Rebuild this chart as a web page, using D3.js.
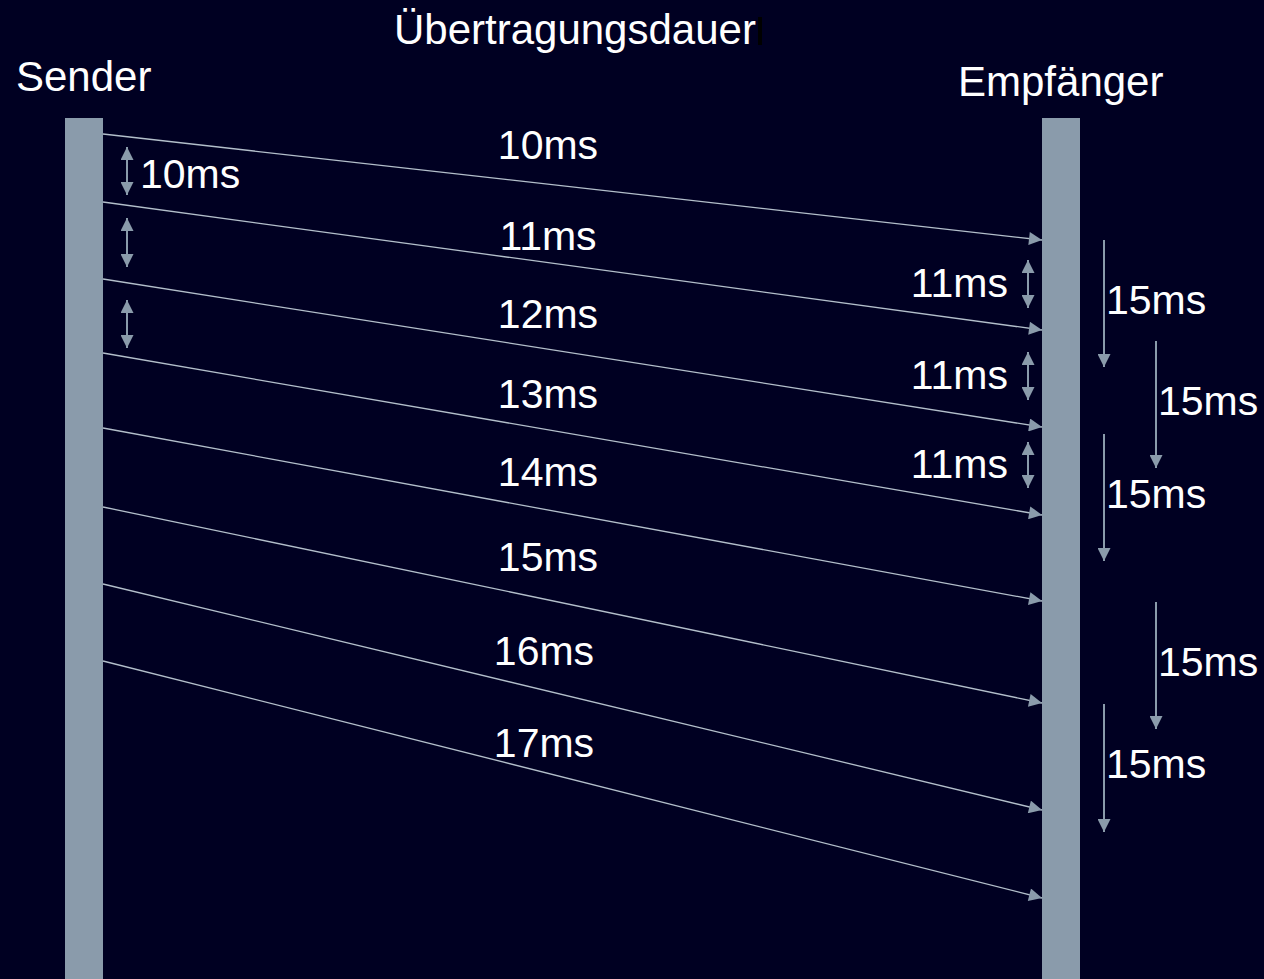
<!DOCTYPE html>
<html>
<head>
<meta charset="utf-8">
<script src="https://cdn.jsdelivr.net/npm/d3@7"></script>
<style>
  html, body { margin: 0; padding: 0; background: #000022; }
  svg { display: block; }
</style>
</head>
<body>
<svg id="chart"></svg>
<script>
// Parties (the two timelines)
let parties = ["Sender", "Empfänger"];

// Messages: when they leave the sender, when they arrive, how long they took
let sendAt = [134, 202, 279, 353, 428, 507, 584, 661];
let arriveAt = [240, 330, 427, 515, 601, 703, 810, 898];
let durations = ["10ms", "11ms", "12ms", "13ms", "14ms", "15ms", "16ms", "17ms"];
let durationLabelAt = [159, 250, 328, 408, 486, 571, 665, 757];

// Gaps between sends (left) and between arrivals (right)
let sendGaps = [[147, 195], [218, 267], [300, 348]];
let sendGapLabels = ["10ms", "", ""];
let arriveGaps = [[260, 308], [352, 400], [442, 488]];
let arriveGapLabels = ["11ms", "11ms", "11ms"];

// Playout interval arrows on the right, in two staggered columns
let playout = [[240, 367], [341, 468], [434, 561], [602, 729], [704, 832]];
let playoutColumn = [0, 1, 0, 1, 0];
let playoutLabels = ["15ms", "15ms", "15ms", "15ms", "15ms"];

let title = "Übertragungsdauer";

let width = 1264;
let height = 979;
let bg = "#000022";
let barColor = "#8a9bab";
let lineColor = "#b3bfcb";
let font = "'Liberation Sans', Arial, sans-serif";

let svg = d3.select("#chart")
  .attr("width", width)
  .attr("height", height)
  .attr("viewBox", `0 0 ${width} ${height}`);

svg.append("rect").attr("width", width).attr("height", height).attr("fill", bg);

// scales: time runs downwards, parties sit left and right
let y = d3.scaleLinear().domain([0, height]).range([0, height]);
let x = d3.scalePoint().domain(parties).range([84, 1061]);
let barW = 38;
let senderEdge = x("Sender") + barW / 2;
let receiverEdge = x("Empfänger") - barW / 2;

// arrow head marker
let defs = svg.append("defs");
defs.append("marker")
  .attr("id", "head")
  .attr("viewBox", "0 0 10 10")
  .attr("refX", 10)
  .attr("refY", 5)
  .attr("markerUnits", "userSpaceOnUse")
  .attr("markerWidth", 14)
  .attr("markerHeight", 13)
  .attr("orient", "auto-start-reverse")
  .append("path")
  .attr("d", "M0,0L10,5L0,10Z")
  .attr("fill", barColor);

// timelines
svg.selectAll(".bar")
  .data(parties)
  .enter()
  .append("rect")
  .attr("class", "bar")
  .attr("x", function (d) { return x(d) - barW / 2; })
  .attr("y", y(118))
  .attr("width", barW)
  .attr("height", y(height) - y(118))
  .attr("fill", barColor);

// party names
svg.selectAll(".name")
  .data(parties)
  .enter()
  .append("text")
  .attr("class", "name")
  .attr("x", function (d, i) { return i === 0 ? 16 : 958; })
  .attr("y", function (d, i) { return i === 0 ? 91 : 96; })
  .attr("fill", "#ffffff")
  .style("font-family", font)
  .style("font-size", "42px")
  .text(function (d) { return d; });

// title + the stray little cursor after it
svg.append("text")
  .attr("x", 394)
  .attr("y", 44)
  .attr("fill", "#ffffff")
  .style("font-family", font)
  .style("font-size", "42px")
  .text(title);
svg.append("rect")
  .attr("x", 758).attr("y", 17).attr("width", 4).attr("height", 28)
  .attr("fill", "#000000");

// message lines
svg.selectAll(".msg")
  .data(sendAt)
  .enter()
  .append("line")
  .attr("class", "msg")
  .attr("x1", senderEdge)
  .attr("y1", function (d) { return y(d); })
  .attr("x2", receiverEdge)
  .attr("y2", function (d, i) { return y(arriveAt[i]); })
  .attr("stroke", lineColor)
  .attr("stroke-width", 1.3)
  .attr("marker-end", "url(#head)");

// duration labels
svg.selectAll(".dur")
  .data(durations)
  .enter()
  .append("text")
  .attr("class", "dur")
  .attr("x", function (d, i) { return i < 6 ? 548 : 544; })
  .attr("y", function (d, i) { return y(durationLabelAt[i]); })
  .attr("text-anchor", "middle")
  .attr("fill", "#ffffff")
  .style("font-family", font)
  .style("font-size", "41px")
  .text(function (d) { return d; });

// double-headed gap arrows
function gapArrows(data, labels, gx, side, dy) {
  svg.selectAll(null)
    .data(data)
    .enter()
    .append("line")
    .attr("x1", gx).attr("x2", gx)
    .attr("y1", function (d) { return y(d[0]); })
    .attr("y2", function (d) { return y(d[1]); })
    .attr("stroke", barColor)
    .attr("stroke-width", 2)
    .attr("marker-start", "url(#head)")
    .attr("marker-end", "url(#head)");

  svg.selectAll(null)
    .data(labels)
    .enter()
    .append("text")
    .attr("x", side === "left" ? gx - 20 : gx + 13)
    .attr("y", function (d, i) { return y((data[i][0] + data[i][1]) / 2) + dy; })
    .attr("text-anchor", side === "left" ? "end" : "start")
    .attr("fill", "#ffffff")
    .style("font-family", font)
    .style("font-size", "41px")
    .text(function (d) { return d; });
}
gapArrows(sendGaps, sendGapLabels, 127, "right", 17);
gapArrows(arriveGaps, arriveGapLabels, 1028, "left", 13);

// playout arrows (down only)
let colX = [1104, 1156];
svg.selectAll(".play")
  .data(playout)
  .enter()
  .append("line")
  .attr("class", "play")
  .attr("x1", function (d, i) { return colX[playoutColumn[i]]; })
  .attr("x2", function (d, i) { return colX[playoutColumn[i]]; })
  .attr("y1", function (d) { return y(d[0]); })
  .attr("y2", function (d) { return y(d[1]); })
  .attr("stroke", barColor)
  .attr("stroke-width", 2)
  .attr("marker-end", "url(#head)");

svg.selectAll(".playLabel")
  .data(playoutLabels)
  .enter()
  .append("text")
  .attr("class", "playLabel")
  .attr("x", function (d, i) { return colX[playoutColumn[i]] + 2; })
  .attr("y", function (d, i) { return y(playout[i][0]) + 74; })
  .attr("fill", "#ffffff")
  .style("font-family", font)
  .style("font-size", "41px")
  .text(function (d) { return d; });
</script>
</body>
</html>
